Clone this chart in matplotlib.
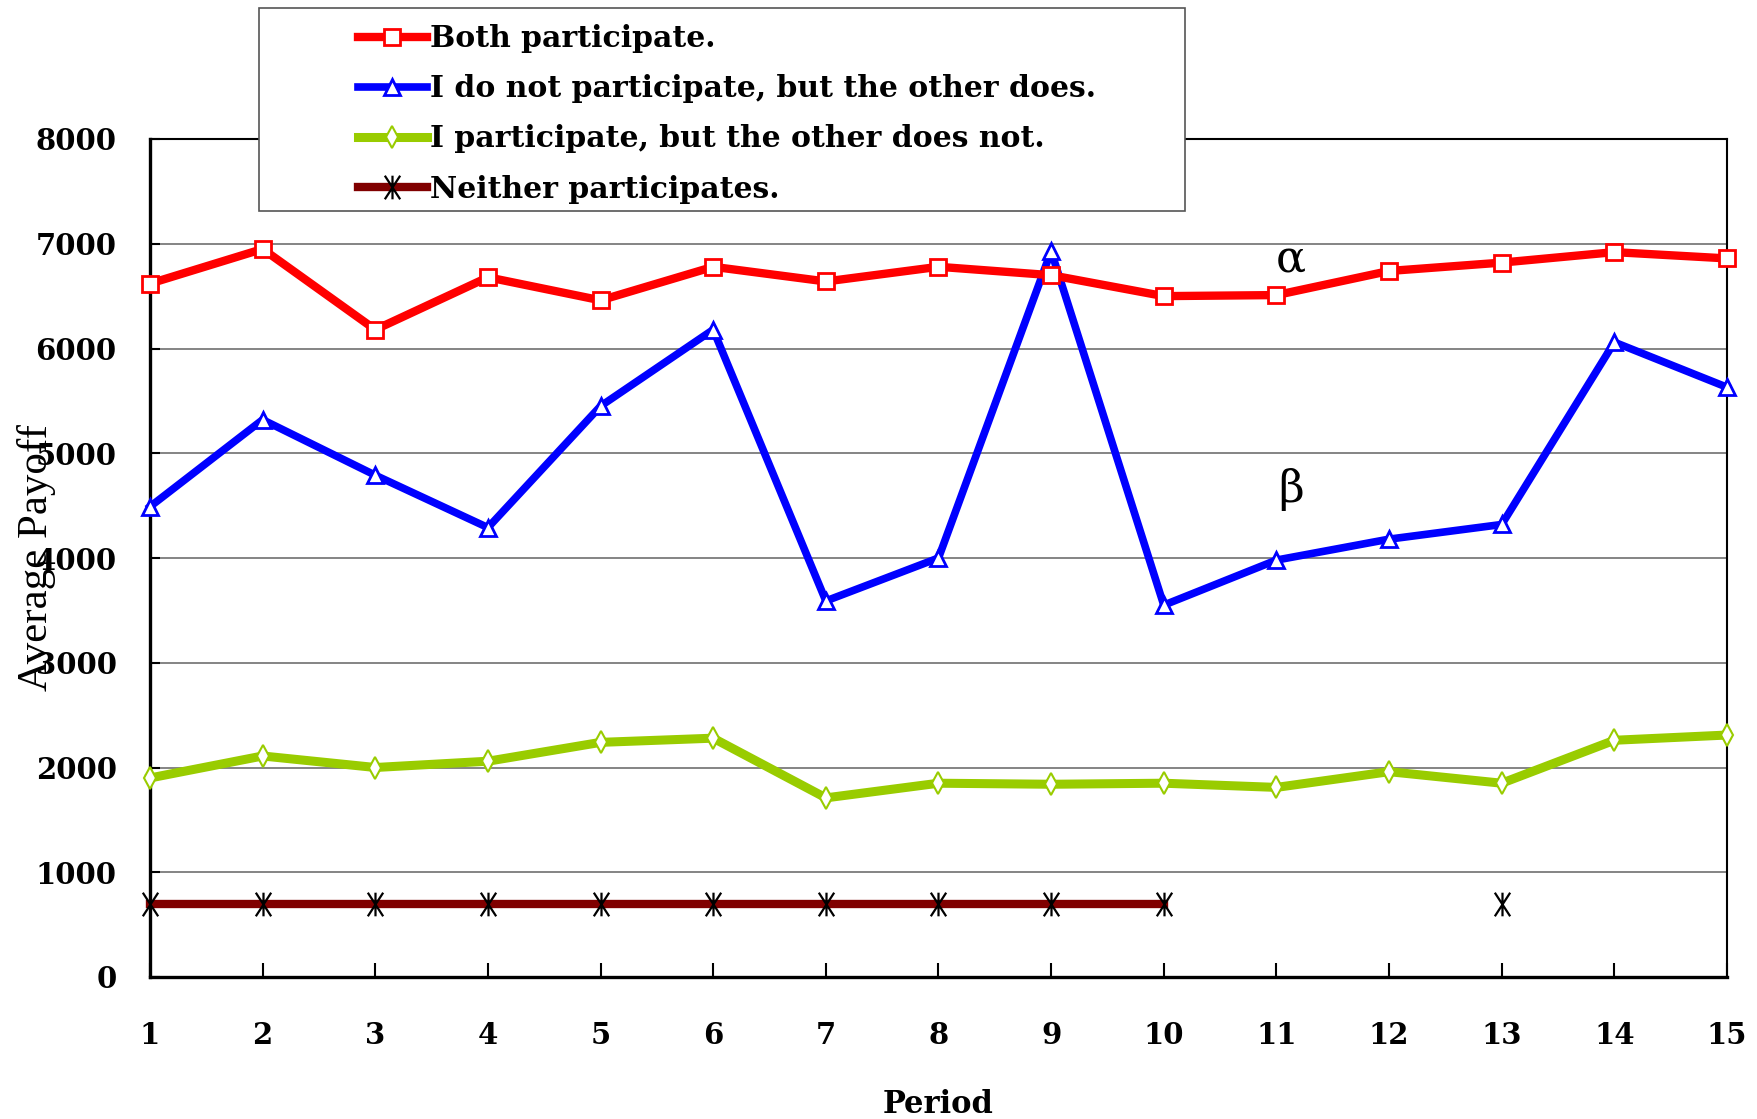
import matplotlib
matplotlib.use("Agg")
import matplotlib.pyplot as plt
import numpy as np
from matplotlib.path import Path
from matplotlib.patches import Rectangle


periods = np.arange(1, 16)

both    = [6620, 6950, 6180, 6680, 6460, 6780, 6640, 6780, 6700, 6500, 6510, 6740, 6820, 6920, 6860]
other   = [4490, 5320, 4790, 4290, 5450, 6180, 3590, 4000, 6930, 3550, 3980, 4180, 4320, 6060, 5630]
mine    = [1900, 2110, 2000, 2060, 2240, 2280, 1710, 1850, 1840, 1850, 1810, 1960, 1850, 2260, 2310]
neither = [700, 700, 700, 700, 700, 700, 700, 700, 700, 700, np.nan, np.nan, 700, np.nan, np.nan]

labels = ["Both participate.",
          "I do not participate, but the other does.",
          "I participate, but the other does not.",
          "Neither participates."]

yticks = [0, 1000, 2000, 3000, 4000, 5000, 6000, 7000, 8000]

# asterisk marker: vertical bar + two steep diagonals
star = Path([(0, -1), (0, 1), (-0.65, -1), (0.65, 1), (-0.65, 1), (0.65, -1)],
            [Path.MOVETO, Path.LINETO, Path.MOVETO, Path.LINETO, Path.MOVETO, Path.LINETO])

tfont = dict(family="DejaVu Serif", weight="bold")

fig = plt.figure(figsize=(17.57, 11.19), dpi=100)
ax = fig.add_axes([150/1757, 1-977/1119, (1727-150)/1757, (977-139)/1119])

ax.plot(periods, both, color="red", lw=6, marker="s", ms=11, mfc="white", mec="red",
        mew=2, label=labels[0], clip_on=False, zorder=4)
ax.plot(periods, other, color="#0000ff", lw=5.5, marker="^", ms=12, mfc="white", mec="#0000ff",
        mew=2, label=labels[1], clip_on=False, zorder=3)
ax.plot(periods, mine, color="#99cc00", lw=6.5, marker="d", ms=11, mfc="white", mec="#99cc00",
        mew=1.5, label=labels[2], clip_on=False, zorder=3)
ax.plot(periods, neither, color="#800000", lw=6, marker=star, ms=17, mfc="none", mec="black",
        mew=1.6, label=labels[3], clip_on=False, zorder=3)

ax.set_xlim(1, 15)
ax.set_ylim(0, 8000)
ax.set_xticks(periods)
ax.set_yticks(yticks)
ax.set_xticklabels([str(p) for p in periods], fontdict=dict(size=21, **tfont))
ax.set_yticklabels([str(v) for v in yticks], fontdict=dict(size=21, **tfont))
ax.tick_params(axis="x", direction="in", length=10, width=1.5, pad=32)
ax.tick_params(axis="y", direction="in", length=7, width=1.5, pad=24)
ax.yaxis.grid(True, color="#707070", lw=1.2)
ax.set_axisbelow(True)

for s in ["left", "bottom"]:
    ax.spines[s].set_linewidth(2.4)
for s in ["top", "right"]:
    ax.spines[s].set_linewidth(1.5)

ax.set_xlabel("Period", fontsize=22, labelpad=28, **tfont)
ax.set_ylabel("Average Payoff", fontsize=31, family="Liberation Serif")
ax.yaxis.set_label_coords(-0.072, 0.5)
ax.yaxis.label.set_va("center")

ax.text(11.13, 6850, "α", fontsize=32, family="DejaVu Serif", ha="center", va="center")
ax.text(11.13, 4650, "β", fontsize=32, family="DejaVu Serif", ha="center", va="center")

# legend box
fig.patches.append(Rectangle((259/1757, 1-211/1119), (1185-259)/1757, (211-8)/1119,
                             transform=fig.transFigure, facecolor="white",
                             edgecolor="#555555", lw=1.2, zorder=5))
leg = fig.legend(loc="upper left", bbox_to_anchor=(352/1757, 1-18/1119), frameon=False,
                 prop=dict(size=21.5, **tfont), handlelength=2.3, handletextpad=0.1,
                 labelspacing=0.71, borderpad=0.2, borderaxespad=0)
leg.set_zorder(6)

fig.savefig("out.png", dpi=100)
